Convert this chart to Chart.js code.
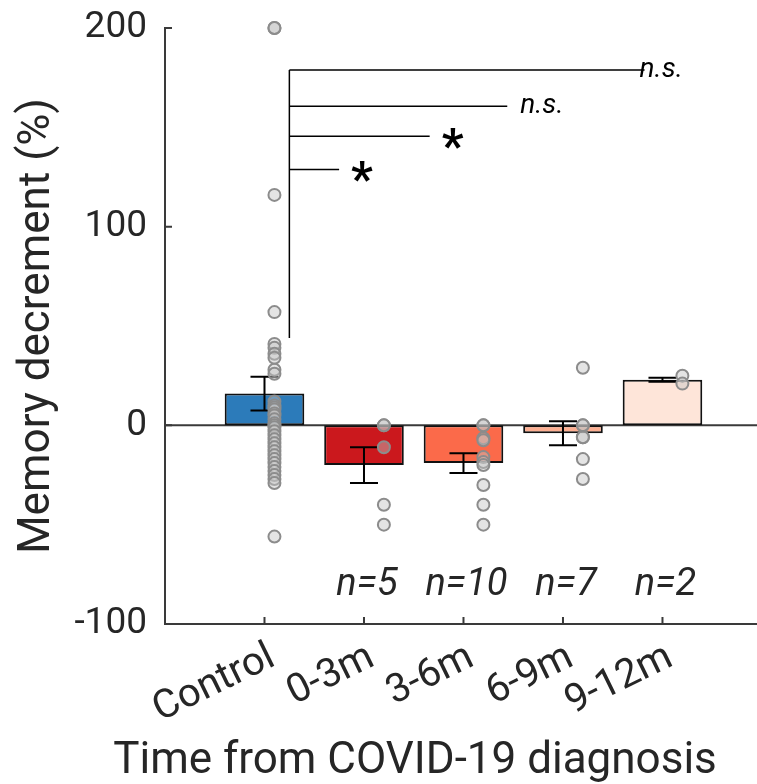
<!DOCTYPE html>
<html>
<head>
<meta charset="utf-8">
<script src="https://cdn.jsdelivr.net/npm/chart.js@4.4.1/dist/chart.umd.min.js"></script>
<style>
  html, body { margin: 0; padding: 0; background: #fff; }
  #wrap { width: 757px; height: 784px; position: relative; }
</style>
</head>
<body>
<div id="wrap"><canvas id="memChart"></canvas></div>
<script>
// categories + bar values (mean, sem)
const categories = ['Control', '0-3m', '3-6m', '6-9m', '9-12m'];
const meanValues = [16, -20, -19, -4, 23];
const semValues = [8.5, 9, 5, 6, 1];
const nLabels = ['', 'n=5', 'n=10', 'n=7', 'n=2'];
const yTicks = [-100, 0, 100, 200];

// individual subjects
const controlPts = [200, 200, 116, 57, 41, 39, 36, 34, 28, 26, 12, 10, 9, 8, 6, 5, 3, 1, 0, -1, -3, -5,
  -7, -9, -11, -13, -15, -17, -19, -21, -23, -25, -27, -29, -56];
const pts0to3 = [0, 0, -11, -40, -50];
const pts3to6 = [0, 0, -6.5, -7.5, -16, -18.5, -20, -30, -40, -50];
const pts6to9 = [29, 0, 0, -6, -6, -17, -27];
const pts9to12 = [25, 21];
const groupPts = [controlPts, pts0to3, pts3to6, pts6to9, pts9to12];

// significance brackets (control vs each group)
const sigLevels = [178.8, 160.6, 145.5, 128.8];
const sigEnds = [4.82, 3.44, 2.66, 1.75];
const sigMarks = ['n.s.', 'n.s.', '*', '*'];

// styling
const barColors = ['#2c7bba', '#cb181d', '#fb6a4a', '#fcae91', '#fee5d9'];
const pointOffset = [0.1, 0.2, 0.2, 0.2, 0.2];
const sigMarkX = [4.77, 3.57, 2.89, 1.98];
const bracketX = 1.25, bracketBottom = 44;
const nLabelY = -79;
const textColor = '#262626';

const decor = {
    id: 'decor',
    beforeDatasetsDraw(chart) {
        const { ctx, chartArea, scales: { y } } = chart;
        const y0 = y.getPixelForValue(0);
        ctx.save();
        ctx.strokeStyle = '#3a3a3a';
        ctx.lineWidth = 2;
        ctx.beginPath();
        ctx.moveTo(chartArea.left, y0);
        ctx.lineTo(chartArea.right, y0);
        ctx.stroke();
        ctx.restore();
    },
    afterDatasetDraw(chart, args) {
        if (args.index !== 0) return;
        // error bars on top of bars, under the points
        const { ctx, scales: { x, y } } = chart;
        ctx.save();
        ctx.strokeStyle = '#000';
        ctx.lineWidth = 2;
        meanValues.forEach((m, i) => {
            const px = x.getPixelForValue(i + 1);
            const top = y.getPixelForValue(m + semValues[i]);
            const bot = y.getPixelForValue(m - semValues[i]);
            ctx.beginPath();
            ctx.moveTo(px, top); ctx.lineTo(px, bot);
            ctx.moveTo(px - 14, top); ctx.lineTo(px + 14, top);
            ctx.moveTo(px - 14, bot); ctx.lineTo(px + 14, bot);
            ctx.stroke();
        });
        ctx.restore();
    },
    afterDraw(chart) {
        const { ctx, chartArea, scales: { x, y } } = chart;
        ctx.save();
        // inward ticks
        ctx.strokeStyle = '#3a3a3a';
        ctx.lineWidth = 2;
        ctx.beginPath();
        yTicks.forEach(v => {
            const py = y.getPixelForValue(v);
            ctx.moveTo(chartArea.left, py); ctx.lineTo(chartArea.left + 7, py);
        });
        categories.forEach((c, i) => {
            const px = x.getPixelForValue(i + 1);
            ctx.moveTo(px, chartArea.bottom); ctx.lineTo(px, chartArea.bottom - 7);
        });
        ctx.stroke();

        // significance brackets
        ctx.strokeStyle = '#000';
        ctx.lineWidth = 1.5;
        const bx = x.getPixelForValue(bracketX);
        ctx.beginPath();
        ctx.moveTo(bx, y.getPixelForValue(sigLevels[0]));
        ctx.lineTo(bx, y.getPixelForValue(bracketBottom));
        sigLevels.forEach((lv, i) => {
            const py = y.getPixelForValue(lv);
            ctx.moveTo(bx, py);
            ctx.lineTo(x.getPixelForValue(sigEnds[i]), py);
        });
        ctx.stroke();

        ctx.fillStyle = '#000';
        sigMarks.forEach((m, i) => {
            const py = y.getPixelForValue(sigLevels[i]);
            const px = x.getPixelForValue(sigMarkX[i]);
            if (m === '*') {
                ctx.font = 'bold 48px Roboto';
                ctx.textAlign = 'center';
                ctx.textBaseline = 'alphabetic';
                ctx.fillText(m, px, py + 26);
            } else {
                ctx.font = 'italic 28px Roboto';
                ctx.textAlign = 'left';
                ctx.textBaseline = 'alphabetic';
                ctx.fillText(m, px, py + 7);
            }
        });

        // n labels
        ctx.fillStyle = textColor;
        ctx.font = 'italic 38px Roboto';
        ctx.textAlign = 'center';
        ctx.textBaseline = 'alphabetic';
        nLabels.forEach((t, i) => {
            if (!t) return;
            ctx.fillText(t, x.getPixelForValue(i + 1) + 3, y.getPixelForValue(nLabelY) + 13);
        });

        // x axis title
        ctx.font = '44px Roboto';
        ctx.textBaseline = 'middle';
        ctx.fillText('Time from COVID-19 diagnosis', 415, 762);
        ctx.restore();
    }
};

function initChart() {
    if (typeof Chart === 'undefined') {
        setTimeout(initChart, 100);
        return;
    }
    Chart.defaults.font.family = 'Roboto';

    const datasets = [{
        type: 'bar',
        data: meanValues.map((v, i) => ({ x: i + 1, y: v })),
        backgroundColor: barColors,
        borderColor: '#111',
        borderWidth: 2,
        borderSkipped: false,
        barPercentage: 1,
        categoryPercentage: 0.8,
        order: 1,
        clip: false
    }];
    groupPts.forEach((pts, i) => {
        datasets.push({
            type: 'scatter',
            data: pts.map(v => ({ x: i + 1 + pointOffset[i], y: v })),
            pointRadius: 6,
            pointBackgroundColor: 'rgba(195,195,195,0.45)',
            pointBorderColor: '#8c8c8c',
            pointBorderWidth: 2,
            order: 0,
            clip: false
        });
    });

    new Chart(document.getElementById('memChart'), {
        type: 'bar',
        data: { datasets },
        options: {
            responsive: true,
            maintainAspectRatio: false,
            animation: false,
            layout: { autoPadding: false, padding: { top: 28, right: 0, left: 0, bottom: 0 } },
            plugins: { legend: { display: false }, tooltip: { enabled: false } },
            scales: {
                x: {
                    type: 'linear',
                    min: 0,
                    max: 5.95,
                    offset: false,
                    afterBuildTicks: s => { s.ticks = categories.map((c, i) => ({ value: i + 1 })); },
                    afterFit: s => {
                        s.height = 160;
                        s.paddingLeft = 0; s.paddingRight = 0;
                    },
                    ticks: {
                        callback: v => categories[v - 1] || '',
                        autoSkip: false,
                        minRotation: 26,
                        maxRotation: 26,
                        labelOffset: 8,
                        padding: 10,
                        color: textColor,
                        font: { size: 40 }
                    },
                    grid: { display: false, drawTicks: false },
                    border: { display: true, color: '#3a3a3a', width: 2 }
                },
                y: {
                    min: -100,
                    max: 200,
                    afterBuildTicks: s => { s.ticks = yTicks.map(v => ({ value: v })); },
                    afterFit: s => {
                        s.width = 165;
                        s.paddingTop = 0; s.paddingBottom = 0;
                    },
                    ticks: { padding: 18, color: textColor, font: { size: 37 } },
                    grid: { display: false, drawTicks: false },
                    border: { display: true, color: '#3a3a3a', width: 2 },
                    title: {
                        display: true,
                        text: 'Memory decrement (%)',
                        color: textColor,
                        font: { size: 44 },
                        padding: { top: 12, bottom: 0 }
                    }
                }
            }
        },
        plugins: [decor]
    });
}

document.addEventListener('DOMContentLoaded', initChart);
</script>
</body>
</html>
